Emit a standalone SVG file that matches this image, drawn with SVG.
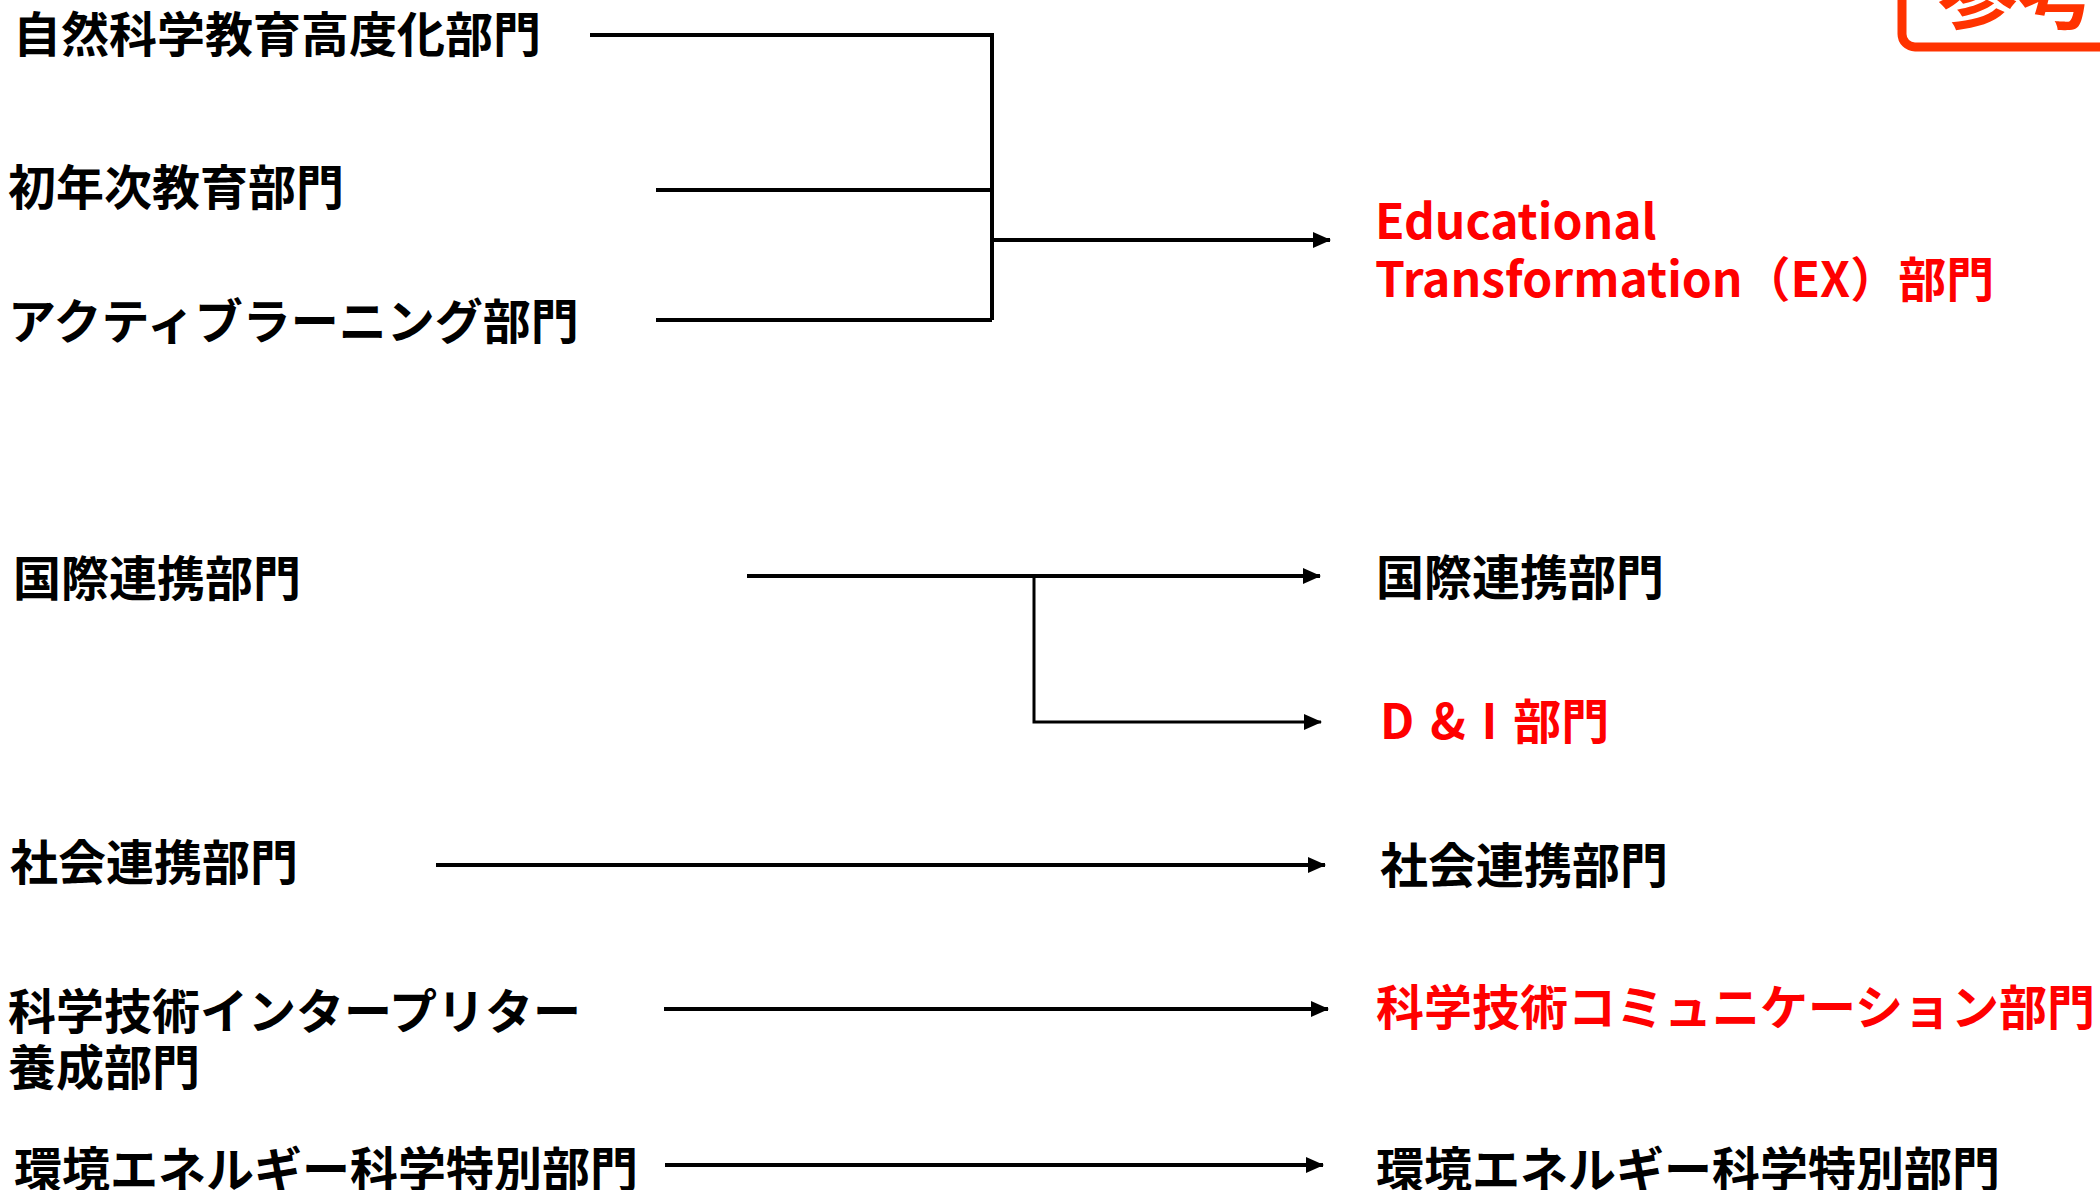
<svg xmlns="http://www.w3.org/2000/svg" width="2100" height="1190" viewBox="0 0 2100 1190">
<style>
text{font-family:"Noto Sans CJK JP","Noto Sans",sans-serif;font-weight:700;font-size:48px;fill:#000}
.red{fill:#ff0000}
.ln{stroke:#000;stroke-width:4;fill:none}
.thin{stroke:#000;stroke-width:3;fill:none}
</style>
<defs>
<marker id="ah" markerUnits="userSpaceOnUse" markerWidth="18" markerHeight="16" refX="17" refY="8" orient="auto">
<path d="M0,0 L18,8 L0,16 Z" fill="#000"/>
</marker>
</defs>
<g id="badge">
<rect x="1902" y="-60" width="260" height="107" rx="13" fill="none" stroke="#ff3300" stroke-width="9"/>
<text x="1938" y="22" style="font-size:80px;fill:#ff3300">参考</text>
</g>
<g id="connectors">
<path class="ln" d="M590,35 H992 V320 M656,190 H992 M656,320 H992"/>
<path class="ln" d="M992,240 H1330" marker-end="url(#ah)"/>
<path class="ln" d="M747,576 H1320" marker-end="url(#ah)"/>
<path class="thin" d="M1034,576 V722 H1321" marker-end="url(#ah)"/>
<path class="ln" d="M436,865 H1325" marker-end="url(#ah)"/>
<path class="ln" d="M664,1009 H1328" marker-end="url(#ah)"/>
<path class="ln" d="M665,1165 H1323" marker-end="url(#ah)"/>
</g>
<g id="n-shizen"><text x="13" y="52">自然科学教育高度化部門</text></g>
<g id="n-shonenji"><text x="8" y="205">初年次教育部門</text></g>
<g id="n-active"><text x="8" y="339">アクティブラーニング部門</text></g>
<g id="n-kokusai-l"><text x="13" y="596">国際連携部門</text></g>
<g id="n-shakai-l"><text x="10" y="880">社会連携部門</text></g>
<g id="n-interp"><text x="8" y="1029">科学技術インタープリター</text><text x="8" y="1085">養成部門</text></g>
<g id="n-kankyo-l"><text x="14" y="1187">環境エネルギー科学特別部門</text></g>
<g id="n-ex"><text class="red" x="1375" y="239">Educational</text><text class="red" x="1375" y="297">Transformation（EX）部門</text></g>
<g id="n-kokusai-r"><text x="1376" y="595">国際連携部門</text></g>
<g id="n-di"><text class="red" x="1380" y="739" style="word-spacing:5px">D &amp; I 部門</text></g>
<g id="n-shakai-r"><text x="1380" y="883">社会連携部門</text></g>
<g id="n-comm"><text class="red" x="1376" y="1025">科学技術コミュニケーション部門</text></g>
<g id="n-kankyo-r"><text x="1376" y="1187">環境エネルギー科学特別部門</text></g>
</svg>
